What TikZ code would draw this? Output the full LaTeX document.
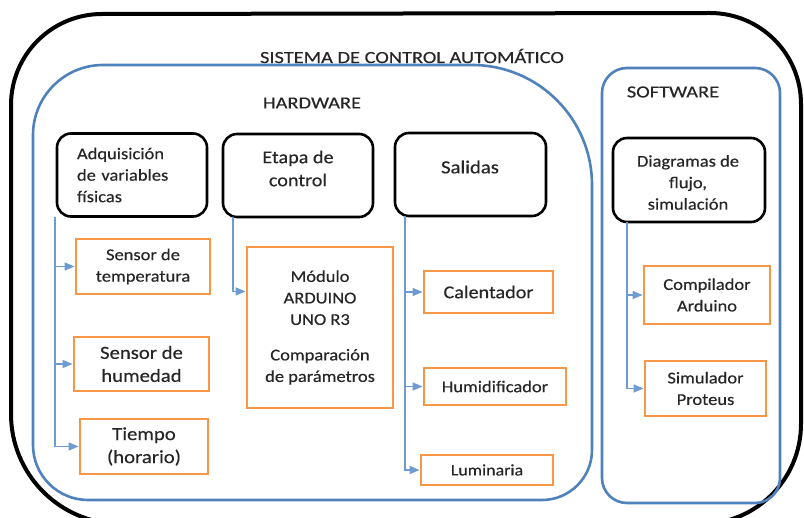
\documentclass[tikz,border=0pt]{standalone}
\usepackage{fontspec}
\setmainfont[FakeStretch=1.12,FakeBold=0.4]{Carlito}
\newfontfamily\capsfont[FakeStretch=1.2,FakeBold=0.4]{Carlito}
\usetikzlibrary{arrows.meta,calc}
\definecolor{hwblue}{HTML}{4F81BD}
\definecolor{cblue}{HTML}{6F9BD3}
\definecolor{oran}{HTML}{F79646}
\definecolor{txt}{HTML}{262626}
\begin{document}
\begin{tikzpicture}[x=1pt,y=-1pt,
  every node/.style={font=\fontsize{16.5}{21.5}\selectfont, text=txt},
  bbox/.style={draw=black, line width=2.6pt, rounded corners=14pt, inner sep=0},
  obox/.style={draw=oran, line width=2.8pt, align=center, inner sep=0},
  conn/.style={draw=cblue, line width=1.4pt, -{Triangle[length=10pt,width=8pt]}},
  frame/.style={draw=hwblue, line width=2.6pt},
  lbl/.style={align=center, inner sep=0},
  caps/.style={lbl, font=\capsfont\fontsize{17}{21}\selectfont},
  big/.style={font=\fontsize{18.5}{23}\selectfont}
]
\useasboundingbox (0,0) rectangle (804,518);
\clip (0,0) rectangle (804,518);
% outer black frame
\draw[line width=4pt] (11,414) -- (11,105) arc[start angle=180,end angle=270,radius=91] -- (710,13)
  arc[start angle=270,end angle=360,radius=91] -- (801,424) arc[start angle=0,end angle=90,radius=100]
  -- (121,524) arc[start angle=90,end angle=180,radius=110] -- cycle;
\node[caps] (title) at (412,56) {SISTEMA DE CONTROL AUTOMÁTICO};
% hardware frame
\draw[frame] (33,445) -- (33,135) arc[start angle=180,end angle=270,radius=70] -- (472,65)
  arc[start angle=270,end angle=360,radius=120] -- (592,450) arc[start angle=0,end angle=90,radius=50]
  -- (88,500) arc[start angle=90,end angle=180,radius=55] -- cycle;
\node[caps] (hw) at (312,103) {HARDWARE};
% software frame
\draw[frame, rounded corners=25pt] (602,68) rectangle (780,503);
\node[caps] (sw) at (673,92) {SOFTWARE};
% black boxes
\node[bbox, minimum width=150pt, minimum height=83pt, align=left, text width=110pt] (adq) at (132,175)
  {Adquisición\\de variables\\físicas};
\node[bbox, minimum width=150pt, minimum height=83pt] (eta) at (298,175.5) {};
\node[lbl, font=\fontsize{18}{23}\selectfont] (etat) at (298,168.5) {Etapa de\\control};
\node[bbox, minimum width=151pt, minimum height=83pt] (sal) at (470.5,174.5) {};
\node[lbl, big] (salt) at (470,167) {Salidas};
\node[bbox, minimum width=152pt, minimum height=84pt] (dia) at (689,180) {};
\node[lbl] (diat) at (688,182.5) {Diagramas de\\flujo,\\simulación};
% orange boxes
\node[obox, minimum width=134pt, minimum height=55pt] (tem) at (143,266.5) {Sensor de\\temperatura};
\node[obox, big, minimum width=135pt, minimum height=54pt] (hum) at (141.5,364) {Sensor de\\humedad};
\node[obox, big, minimum width=128pt, minimum height=55pt] (tie) at (144,446.5) {Tiempo\\(horario)};
\node[obox, minimum width=146pt, minimum height=161pt] (mod) at (320,327.5)
  {Módulo\\ARDUINO\\UNO R3\\[14pt]Comparación\\de parámetros};
\node[obox, minimum width=129pt, minimum height=42pt, font=\fontsize{18}{22}\selectfont] (cal) at (488.5,292) {Calentador};
\node[obox, minimum width=142pt, minimum height=37pt, font=\fontsize{16.5}{20}\selectfont] (hmd) at (495,386.5) {Humidificador};
\node[obox, minimum width=132pt, minimum height=30pt, font=\fontsize{16}{19}\selectfont] (lum) at (487,470) {Luminaria};
\node[obox, minimum width=126pt, minimum height=58pt] (com) at (707,295) {Compilador\\Arduino};
\node[obox, minimum width=121pt, minimum height=55pt] (sim) at (705.5,388.5) {Simulador\\Proteus};
% connectors
\coordinate (a0) at (55,217);
\coordinate (e0) at (233,217);
\coordinate (s0) at (405,216);
\coordinate (d0) at (627,222);
\draw[conn] (a0) |- (tem.west);
\draw[conn] (a0) |- (hum.west);
\draw[conn] (a0) |- (tie.west);
\draw[conn] (e0) |- ($(mod.north west)!0.28!(mod.south west)$);
\draw[conn] (s0) |- (cal.west);
\draw[conn] (s0) |- (hmd.west);
\draw[conn] (s0) |- (lum.west);
\draw[conn] (d0) |- (com.west);
\draw[conn] (d0) |- (sim.west);
\end{tikzpicture}
\end{document}
